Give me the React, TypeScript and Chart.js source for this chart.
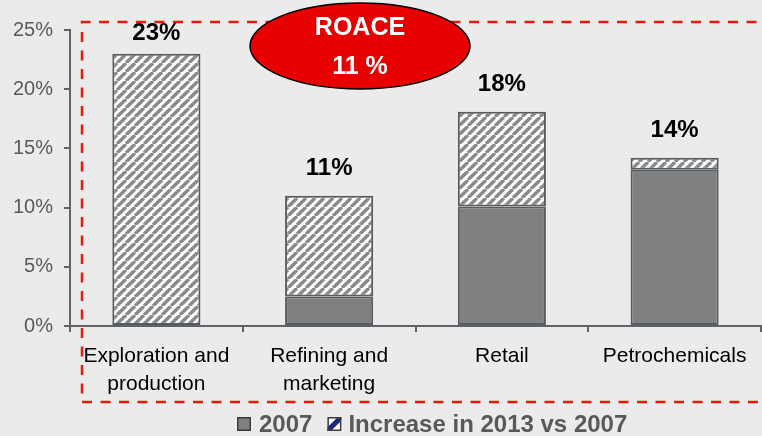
import React, { useEffect, useRef } from 'react';
import { Chart, registerables } from 'chart.js';

Chart.register(...registerables);

// ---- data ----
const categories: string[][] = [
  ['Exploration and', 'production'],
  ['Refining and', 'marketing'],
  ['Retail'],
  ['Petrochemicals'],
];
const values2007: number[] = [0, 2.5, 10.1, 13.2];
const valuesIncrease: number[] = [23, 8.5, 8.0, 1.0];
const totalLabels: string[] = ['23%', '11%', '18%', '14%'];
const seriesNames: string[] = ['2007', 'Increase in 2013 vs 2007'];
const yMax = 25;
const yStep = 5;
const roaceLines: string[] = ['ROACE', '11 %'];

const FONT = '"Liberation Sans", Arial, sans-serif';
const AXIS = '#5f6368';
const BAR_BORDER = '#575c60';
const GRAY = '#808080';

function makeHatch(stripe: string, bg: string, size: number, width: number): CanvasPattern | string {
  const c = document.createElement('canvas');
  c.width = size;
  c.height = size;
  const ctx = c.getContext('2d');
  if (!ctx) return stripe;
  ctx.fillStyle = bg;
  ctx.fillRect(0, 0, size, size);
  ctx.strokeStyle = stripe;
  ctx.lineWidth = width;
  ctx.beginPath();
  for (const k of [-size, 0, size]) {
    ctx.moveTo(k, size);
    ctx.lineTo(k + size, 0);
  }
  ctx.stroke();
  const p = ctx.createPattern(c, 'repeat');
  return p || stripe;
}

export default function App() {
  const ref = useRef<HTMLCanvasElement>(null);

  useEffect(() => {
    if (!ref.current) return;
    const hatch = makeHatch('#8a8a8a', '#ffffff', 9, 3.4);

    const totalsPlugin = {
      id: 'totals',
      afterDatasetsDraw(chart: any) {
        const { ctx, chartArea } = chart;
        const y = chart.scales.y;
        const meta = chart.getDatasetMeta(1);
        ctx.save();
        ctx.font = `bold 24px ${FONT}`;
        ctx.fillStyle = '#000';
        ctx.textAlign = 'center';
        ctx.textBaseline = 'middle';
        totalLabels.forEach((t, i) => {
          const total = values2007[i] + valuesIncrease[i];
          const top = y.getPixelForValue(total);
          const ly = Math.max(top - 27, chartArea.top + 3);
          ctx.fillText(t, meta.data[i].x, ly);
        });
        ctx.restore();
      },
    };

    const decoPlugin = {
      id: 'deco',
      afterDraw(chart: any) {
        const { ctx, chartArea } = chart;
        ctx.save();
        // red dashed frame
        ctx.strokeStyle = '#e31b0b';
        ctx.lineWidth = 2.5;
        ctx.setLineDash([10, 8.5]);
        const l = chartArea.left + 12;
        const t = chartArea.top - 8;
        const b = 402;
        ctx.beginPath();
        ctx.moveTo(775, t);
        ctx.lineTo(l, t);
        ctx.lineTo(l, b);
        ctx.lineTo(775, b);
        ctx.stroke();
        ctx.setLineDash([]);

        // ROACE ellipse
        ctx.beginPath();
        ctx.ellipse(360, 46, 110, 43, 0, 0, Math.PI * 2);
        ctx.fillStyle = '#e60000';
        ctx.fill();
        ctx.lineWidth = 1.5;
        ctx.strokeStyle = '#000';
        ctx.stroke();
        ctx.fillStyle = '#fff';
        ctx.font = `bold 25px ${FONT}`;
        ctx.textAlign = 'center';
        ctx.textBaseline = 'middle';
        ctx.fillText(roaceLines[0], 360, 28);
        ctx.fillText(roaceLines[1], 360, 67);

        // legend
        const ly = 424;
        let x = 237;
        ctx.font = `bold 24px ${FONT}`;
        ctx.textAlign = 'left';
        seriesNames.forEach((name, i) => {
          const bx = x;
          const by = ly - 7;
          if (i === 0) {
            ctx.fillStyle = GRAY;
            ctx.fillRect(bx, by, 14, 14);
          } else {
            ctx.fillStyle = '#fff';
            ctx.fillRect(bx, by, 14, 14);
            ctx.save();
            ctx.beginPath();
            ctx.rect(bx, by, 14, 14);
            ctx.clip();
            ctx.strokeStyle = '#1a2a80';
            ctx.lineWidth = 5;
            ctx.beginPath();
            ctx.moveTo(bx, by + 14);
            ctx.lineTo(bx + 14, by);
            ctx.stroke();
            ctx.restore();
          }
          ctx.lineWidth = 1.5;
          ctx.strokeStyle = '#3a3a3a';
          ctx.strokeRect(bx + 0.75, by + 0.75, 12.5, 12.5);
          x += i === 0 ? 22 : 21;
          ctx.fillStyle = '#595959';
          ctx.fillText(name, x, ly + 1);
          x += ctx.measureText(name).width + 15;
        });
        ctx.restore();
      },
    };

    const chart = new Chart(ref.current, {
      type: 'bar',
      data: {
        labels: categories,
        datasets: [
          {
            label: seriesNames[0],
            data: values2007,
            backgroundColor: GRAY,
            borderColor: BAR_BORDER,
            borderWidth: 2,
            borderSkipped: false,
          },
          {
            label: seriesNames[1],
            data: valuesIncrease,
            backgroundColor: hatch as any,
            borderColor: BAR_BORDER,
            borderWidth: 2,
            borderSkipped: false,
          },
        ],
      },
      options: {
        responsive: false,
        animation: false,
        devicePixelRatio: 1,
        layout: { padding: { top: 30, right: 1, bottom: 26, left: 0 } },
        plugins: {
          legend: { display: false },
          tooltip: { enabled: false },
        },
        datasets: {
          bar: { barPercentage: 0.51, categoryPercentage: 1 },
        },
        scales: {
          x: {
            stacked: true,
            grid: {
              drawOnChartArea: false,
              drawTicks: true,
              tickLength: 6,
              color: AXIS,
              lineWidth: 2,
              offset: true,
            },
            border: { display: true, color: AXIS, width: 2 },
            ticks: {
              color: '#000',
              font: { family: FONT, size: 21, lineHeight: 1.35 },
              padding: 10,
              maxRotation: 0,
              autoSkip: false,
            },
            afterFit(scale: any) {
              scale.height = 84;
            },
          },
          y: {
            stacked: true,
            min: 0,
            max: yMax,
            grid: {
              drawOnChartArea: false,
              drawTicks: true,
              tickLength: 6,
              color: AXIS,
              lineWidth: 2,
            },
            border: { display: true, color: AXIS, width: 2 },
            ticks: {
              stepSize: yStep,
              color: '#595959',
              font: { family: FONT, size: 20 },
              padding: 11,
              callback: (v: any) => `${v}%`,
            },
            afterFit(scale: any) {
              scale.width = 70;
            },
          },
        },
      },
      plugins: [totalsPlugin, decoPlugin],
    });
    return () => chart.destroy();
  }, []);

  return (
    <div style={{ position: 'fixed', left: 0, top: 0, width: 762, height: 436, background: '#ebebeb' }}>
      <canvas ref={ref} width={762} height={436} style={{ display: 'block' }} />
    </div>
  );
}
